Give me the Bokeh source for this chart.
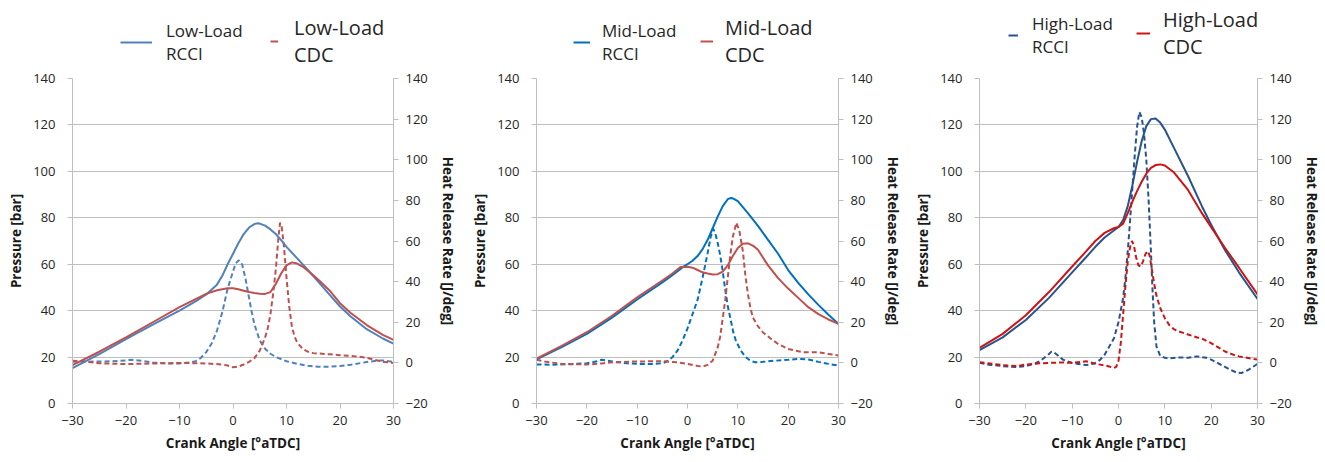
from bokeh.plotting import figure
from bokeh.models import Range1d, LinearAxis, Legend, LegendItem, FixedTicker
from bokeh.layouts import row, column
from bokeh.embed import file_html
from bokeh.resources import INLINE

# ---------------- data ----------------
x_ticks = [-30, -20, -10, 0, 10, 20, 30]
p_ticks = [0, 20, 40, 60, 80, 100, 120, 140]
h_ticks = [-20, 0, 20, 40, 60, 80, 100, 120, 140]

# Low load
low_rcci_p_ca = [-30, -25, -20, -15, -10, -7, -5, -3, -2, -1, 0, 1, 2, 3, 4, 4.5, 5, 6, 7, 8, 9, 10, 12, 14, 16, 18, 20, 22, 25, 28, 30]
low_rcci_p = [15.2, 21.3, 27.7, 34, 40, 44, 47, 51.2, 55, 60, 64.5, 69, 73, 75.8, 77.3, 77.6, 77.5, 76.6, 75, 73, 70.4, 67.5, 62.5, 57.5, 52.3, 47, 41.8, 37.5, 32, 28, 25.8]
low_cdc_p_ca = [-30, -25, -20, -15, -10, -7, -5, -3, -1, 0, 1, 2, 3, 4, 5, 6, 7, 8, 9, 10, 11, 12, 13, 14, 15, 16, 18, 20, 22, 25, 28, 30]
low_cdc_p = [16.5, 22.3, 28.5, 35, 41.5, 45, 47.2, 48.8, 49.6, 49.6, 49.2, 48.6, 48, 47.6, 47.3, 47.2, 48, 51.5, 56, 59.5, 60.8, 60.3, 59, 57.2, 55.2, 53.2, 48.8, 43.2, 39, 33.8, 29.6, 27.4]
low_rcci_h_ca = [-30, -27, -24, -21, -19, -17, -15, -12, -10, -8, -7, -6, -5, -4, -3, -2, -1, 0, 0.5, 1.1, 1.7, 2.3, 3, 3.5, 4, 5, 6, 7, 8, 10, 12, 14, 16, 18, 20, 22, 25, 27, 28, 30]
low_rcci_h = [0.5, 0.6, 0.7, 1.0, 1.5, 1.0, 0.2, -0.3, -0.3, 0.2, 0.8, 2.5, 5.3, 9.5, 15.8, 25, 36.5, 45, 49, 50.5, 48.5, 42, 32, 25, 19, 11, 7, 4.5, 2.9, 0.8, -0.5, -1.4, -1.9, -1.9, -1.5, -0.9, 0.4, 1.2, 1.2, 0.5]
low_cdc_h_ca = [-30, -28, -25, -20, -15, -10, -5, -2, -1, 0, 1, 2, 3, 4, 5, 6, 6.5, 7, 7.5, 8, 8.5, 8.8, 9.1, 9.5, 10, 10.5, 11, 11.5, 12, 13, 14, 15, 18, 20, 23, 25, 27, 28, 30]
low_cdc_h = [1, 0.8, -0.2, -0.6, -0.3, 0, -0.3, -0.8, -1.3, -2.2, -1.8, -0.8, 0.5, 2.3, 6, 12.5, 17, 24, 34, 46, 62, 69, 67, 58, 42, 28, 18, 13, 10, 7, 5.5, 4.8, 4.2, 3.8, 3.2, 2.5, 1.2, 0.5, 0]

# Mid load
mid_rcci_p_ca = [-30, -25, -20, -15, -10, -5, -3, -1, 0, 1, 2, 3, 4, 5, 6, 7, 8, 8.5, 9, 10, 12, 14, 16, 18, 20, 22, 24, 26, 28, 30]
mid_rcci_p = [19, 24.3, 30, 37, 44.8, 52.2, 55.3, 58.6, 60, 61.5, 63.5, 66.5, 70.5, 75.5, 80.5, 85, 88, 88.5, 88.4, 87.2, 82, 76.5, 70.5, 64.5, 57.5, 52, 47, 42.5, 38.2, 34.3]
mid_cdc_p_ca = [-30, -25, -20, -15, -10, -5, -3, -1.4, 0, 1, 2, 3, 4, 5, 6, 7, 8, 9, 10, 11, 12, 13, 14, 16, 18, 20, 22, 24, 26, 28, 30]
mid_cdc_p = [19.3, 24.8, 30.7, 37.8, 45.7, 53, 56, 58.8, 58.9, 58.5, 57.5, 56.5, 56, 55.6, 55.7, 56.8, 59.5, 63.5, 67, 68.8, 69, 68, 66.2, 59.5, 54, 49.5, 45.5, 41.5, 38.5, 36.2, 34.3]
mid_rcci_h_ca = [-30, -27, -24, -20, -18, -17, -15, -12, -10, -7, -5, -4, -3, -2, -1, 0, 1, 2, 3, 4, 4.6, 5.1, 5.5, 6, 6.5, 7, 7.5, 8, 8.6, 9.1, 9.6, 10.6, 11.5, 12.5, 13.5, 15, 17, 20, 22, 24, 26, 28, 30]
mid_rcci_h = [-0.8, -0.9, -0.7, -0.2, 0.8, 1.5, 0.7, -0.2, -0.5, -0.5, -0.2, 0.8, 2.8, 6, 10.9, 17, 24, 31, 42, 54, 62, 66, 64, 59, 53, 45, 36, 28, 21, 15, 11, 6, 3, 1, 0.3, 0.5, 1, 1.5, 2, 1.7, 0.5, -0.5, -1.3]
mid_cdc_h_ca = [-30, -28, -25, -20, -17, -15, -10, -5, -2, 0, 2, 3, 4, 5, 6, 6.5, 7, 7.5, 8, 8.5, 9, 9.7, 10.3, 11, 11.5, 12, 12.5, 13, 14, 15, 16.5, 18, 20, 23, 26, 28, 30]
mid_cdc_h = [1.5, 0.5, -0.5, -0.8, -0.3, 0.3, 0.7, 0.8, 0.3, -0.5, -1.5, -1.8, -1, 1.1, 7.6, 13, 22, 31, 42, 53, 62, 69, 65, 55, 43, 34, 27, 22.3, 18, 15, 12, 9.3, 6.8, 5.2, 5.2, 4.4, 3.6]

# High load
high_rcci_p_ca = [-30, -25, -20, -15, -10, -7, -5, -3, -1, 0, 1, 2, 3, 4, 5, 6, 7, 8, 9, 10, 12, 15, 18, 20, 23, 26, 30]
high_rcci_p = [23, 28.5, 36, 45.5, 56.5, 63, 67.5, 71.5, 74.5, 76, 79, 85, 94, 104, 113, 119.5, 122.5, 122.8, 121, 118, 110, 98, 85, 77, 66, 56.5, 45]
high_cdc_p_ca = [-30, -25, -20, -15, -10, -7, -5, -3, -1, 0, 1, 2, 3, 4, 5, 6, 7, 8, 9, 10, 12, 15, 18, 20, 23, 26, 30]
high_cdc_p = [24, 30, 38, 48, 59, 65.5, 70, 73.5, 75.5, 76, 77.5, 82, 87, 91.5, 95.5, 99, 101.5, 102.7, 103, 102.5, 99.5, 92, 82, 76, 67, 58.5, 47]
high_rcci_h_ca = [-30, -28, -25, -22, -20, -18, -17, -16, -15, -14.5, -14, -13, -12, -11, -10, -8, -7, -6, -5, -4, -3, -2, -1, 0, 1, 1.5, 2, 2.5, 3, 3.5, 4, 4.5, 5, 5.5, 6, 6.5, 7, 7.3, 7.7, 8.2, 9, 10, 11, 13, 15, 17, 19, 20, 22, 24, 25.5, 26.5, 28, 30]
high_rcci_h = [0, -0.9, -1.6, -2.1, -1.6, -0.3, 0.8, 2.5, 4.4, 5.5, 5.3, 3.5, 1.6, 0.7, 0, -0.7, -1.1, -0.8, 0, 1.5, 4, 8, 12, 20, 32, 42, 55, 70, 86, 102, 116, 123.5, 121, 113, 100, 80, 55, 38, 20, 8, 3.5, 2.5, 2.2, 2.7, 2.5, 3.2, 2.5, 1.6, -0.8, -3.2, -4.8, -5, -3.5, -0.5]
high_cdc_h_ca = [-30, -27, -25, -22, -20, -17, -15, -12, -10, -8, -7, -6, -5, -3, -2, -1, -0.5, 0, 0.5, 1, 1.5, 2, 2.5, 2.9, 3.3, 3.8, 4.3, 4.8, 5.3, 5.8, 6.3, 6.7, 7.2, 7.7, 8.2, 9, 10, 11, 12, 13, 15, 17, 18, 20, 22, 23, 25, 26, 28, 30]
high_cdc_h = [0.3, -0.5, -1.1, -1.6, -0.8, -0.2, 0, 0.2, 0, 0.5, 0.8, 0.3, -0.5, -1.2, -1.8, -2.5, -2, 1, 10, 24, 38, 50, 57, 60, 58, 52, 48, 47.5, 50, 53.5, 55, 53, 46, 39, 33, 27, 22, 18.5, 16.5, 15.5, 14, 12.5, 12, 9.7, 7, 5.6, 3.8, 3.2, 2.4, 1.6]

panels = [
    dict(name="Low-Load",
         rcci_p=(low_rcci_p_ca, low_rcci_p), cdc_p=(low_cdc_p_ca, low_cdc_p),
         rcci_h=(low_rcci_h_ca, low_rcci_h), cdc_h=(low_cdc_h_ca, low_cdc_h),
         blue="#4F81BD", red="#C0504D",
         width=463, left=72, right=70, top=9, bottom=52,
         leg_rcci=dict(loc=(120, 3), gw=32, so=14),
         leg_cdc=dict(loc=(270, 0), gw=8, so=16)),
    dict(name="Mid-Load",
         rcci_p=(mid_rcci_p_ca, mid_rcci_p), cdc_p=(mid_cdc_p_ca, mid_cdc_p),
         rcci_h=(mid_rcci_h_ca, mid_rcci_h), cdc_h=(mid_cdc_h_ca, mid_cdc_h),
         blue="#0070C0", red="#C0504D",
         width=445, left=73, right=70, top=10, bottom=57,
         leg_rcci=dict(loc=(573, 3), gw=17, so=12),
         leg_cdc=dict(loc=(700, 0), gw=13, so=12)),
    dict(name="High-Load",
         rcci_p=(high_rcci_p_ca, high_rcci_p), cdc_p=(high_cdc_p_ca, high_cdc_p),
         rcci_h=(high_rcci_h_ca, high_rcci_h), cdc_h=(high_cdc_h_ca, high_cdc_h),
         blue="#27538F", red="#CC1414",
         width=415, left=71, right=62, top=10, bottom=53,
         leg_rcci=dict(loc=(1008, 10), gw=10, so=14),
         leg_cdc=dict(loc=(1136, 8), gw=14, so=13)),
]

FONT = "Open Sans"
GRID = "#BFBFBF"
TXT = "#262626"
LEG_H = 68
MAIN_H = 392


def style_axis(ax, standoff, label_standoff):
    ax.axis_line_color = GRID
    ax.major_tick_line_color = GRID
    ax.major_tick_out = 5
    ax.major_tick_in = 0
    ax.minor_tick_line_color = None
    ax.major_label_text_font = FONT
    ax.major_label_text_font_size = "13px"
    ax.major_label_text_color = TXT
    ax.major_label_standoff = standoff
    ax.axis_label_text_font = FONT
    ax.axis_label_text_font_size = "13.5px"
    ax.axis_label_text_font_style = "bold"
    ax.axis_label_text_color = "#1a1a1a"
    ax.axis_label_standoff = label_standoff


total_w = sum(c["width"] for c in panels)

# one legend strip across the top of all three charts
lf = figure(width=total_w, height=LEG_H, x_range=Range1d(-30, 30),
            y_range=Range1d(1000, 1001),
            output_backend="svg", toolbar_location=None,
            x_axis_location=None, y_axis_location=None,
            min_border_left=0, min_border_right=0, min_border_top=0, min_border_bottom=0)
lf.outline_line_color = None
lf.grid.visible = False

charts = []
for cfg in panels:
    s_rcci = lf.line(*cfg["rcci_p"], line_color=cfg["blue"], line_width=2)
    s_cdc = lf.line(*cfg["cdc_p"], line_color=cfg["red"], line_width=2)
    for key, rend, lab, fs, lh in (("leg_rcci", s_rcci, "RCCI", "17px", 1.35),
                                    ("leg_cdc", s_cdc, "CDC", "20px", 1.4)):
        lc = cfg[key]
        leg = Legend(items=[LegendItem(label=cfg["name"] + "\n" + lab, renderers=[rend])],
                     location=lc["loc"], glyph_width=lc["gw"], glyph_height=12,
                     label_standoff=lc["so"], padding=0, margin=0, spacing=0,
                     border_line_color=None, background_fill_alpha=0,
                     label_text_font=FONT, label_text_font_size=fs,
                     label_text_color="#262626", label_text_line_height=lh)
        lf.add_layout(leg)

    p = figure(width=cfg["width"], height=MAIN_H,
               x_range=Range1d(-30, 30), y_range=Range1d(0, 140),
               output_backend="svg", toolbar_location=None,
               min_border_left=cfg["left"], min_border_right=cfg["right"],
               min_border_top=cfg["top"], min_border_bottom=cfg["bottom"],
               x_axis_label="Crank Angle [°aTDC]", y_axis_label="Pressure [bar]")
    p.outline_line_color = None
    p.extra_y_ranges = {"hrr": Range1d(-20, 140)}

    p.xaxis.ticker = FixedTicker(ticks=x_ticks)
    p.yaxis.ticker = FixedTicker(ticks=p_ticks)
    style_axis(p.xaxis[0], 7, 6)
    style_axis(p.yaxis[0], 12, 5)

    rax = LinearAxis(y_range_name="hrr", axis_label="Heat Release Rate [J/deg]",
                     ticker=FixedTicker(ticks=h_ticks))
    style_axis(rax, 7, 8)
    p.add_layout(rax, "right")

    p.xgrid.visible = False
    p.ygrid.ticker = FixedTicker(ticks=p_ticks)
    p.ygrid.grid_line_color = GRID
    p.ygrid.grid_line_width = 1

    p.line(*cfg["rcci_h"], y_range_name="hrr", line_color=cfg["blue"],
           line_width=2, line_dash="5 3")
    p.line(*cfg["cdc_h"], y_range_name="hrr", line_color=cfg["red"],
           line_width=2, line_dash="5 3")
    p.line(*cfg["rcci_p"], line_color=cfg["blue"], line_width=2)
    p.line(*cfg["cdc_p"], line_color=cfg["red"], line_width=2)
    charts.append(p)

layout = column(lf, row(*charts, spacing=0), spacing=0)
open("out.html", "w").write(file_html(layout, INLINE))
